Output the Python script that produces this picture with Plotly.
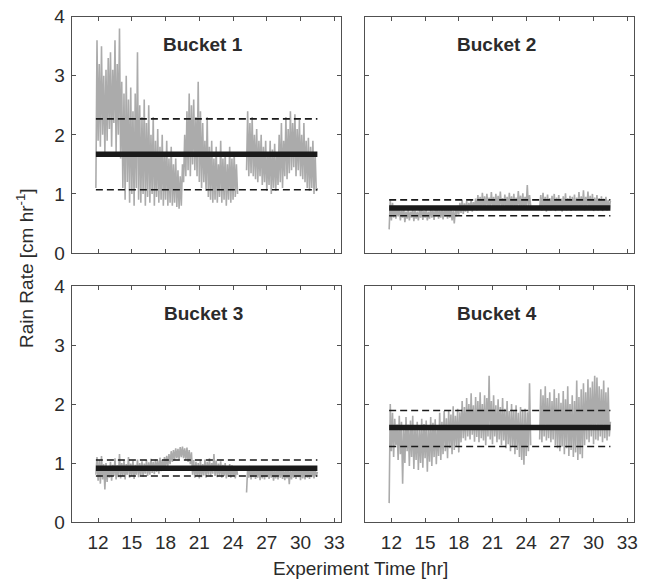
import numpy as np
import plotly.graph_objects as go

# ---------------------------------------------------------------------------
# Data: rain rate [cm/hr] recorded by four buckets, sampled every 0.1 hr.
# Two recording segments separated by a short outage.
# ---------------------------------------------------------------------------
seg_a_start, seg_a_end = 11.8, 24.4
seg_b_start, seg_b_end = 25.2, 31.5
sample_step = 0.1

bucket_names = ["Bucket 1", "Bucket 2", "Bucket 3", "Bucket 4"]

bucket1_a = [
    1.10, 3.60, 1.90, 3.20, 1.80, 3.50, 2.00, 3.00, 1.70, 3.10,
    1.90, 3.30, 2.10, 3.40, 1.80, 3.10, 2.20, 3.60, 1.70, 3.20,
    2.00, 3.80, 1.60, 2.90, 1.10, 2.70, 0.90, 3.00, 1.20, 2.60,
    0.85, 2.80, 1.00, 2.40, 0.80, 2.70, 1.10, 3.40, 0.90, 2.50,
    0.85, 2.30, 1.00, 2.60, 0.80, 2.20, 0.95, 2.50, 0.85, 2.00,
    1.00, 2.30, 0.80, 1.90, 0.95, 2.10, 0.85, 1.80, 0.90, 2.00,
    0.80, 1.70, 0.90, 1.90, 0.80, 1.60, 0.85, 1.80, 0.80, 1.50,
    0.85, 1.60, 0.78, 1.40, 0.75, 1.30, 0.80, 1.50, 1.20, 2.00,
    1.30, 2.40, 1.40, 2.70, 1.30, 2.50, 1.50, 2.60, 1.40, 2.30,
    1.30, 2.90, 1.20, 2.40, 1.10, 2.20, 1.20, 1.90, 1.05, 2.30,
    0.95, 1.80, 0.90, 1.90, 0.85, 1.60, 0.90, 1.80, 0.85, 1.50,
    0.95, 1.90, 0.85, 1.60, 0.90, 1.70, 0.80, 1.50, 0.90, 1.80,
    0.85, 1.60, 0.90, 1.70, 0.95, 1.50, 1.00,
]
bucket1_b = [
    1.40, 2.40, 1.30, 2.20, 1.35, 2.30, 1.30, 2.00, 1.25, 2.10,
    1.20, 1.90, 1.30, 2.00, 1.15, 1.80, 1.20, 1.90, 1.05, 1.70,
    1.15, 1.90, 1.00, 1.75, 1.10, 1.85, 1.05, 1.70, 1.15, 2.00,
    1.20, 2.20, 1.10, 1.90, 1.30, 2.30, 1.25, 2.10, 1.35, 2.40,
    1.40, 2.20, 1.45, 2.35, 1.30, 2.10, 1.40, 2.25, 1.30, 2.00,
    1.25, 2.20, 1.20, 1.90, 1.10, 1.95, 1.05, 1.80, 1.10, 1.90,
    1.00, 1.70, 1.05, 1.10,
]

bucket2_a = [
    0.40, 0.90, 0.55, 0.85, 0.60, 0.80, 0.58, 0.75, 0.62, 0.78,
    0.55, 0.72, 0.60, 0.76, 0.52, 0.70, 0.58, 0.74, 0.55, 0.70,
    0.60, 0.75, 0.54, 0.72, 0.58, 0.70, 0.55, 0.73, 0.60, 0.76,
    0.56, 0.71, 0.60, 0.74, 0.55, 0.70, 0.58, 0.75, 0.60, 0.72,
    0.56, 0.74, 0.62, 0.77, 0.58, 0.72, 0.60, 0.76, 0.57, 0.73,
    0.62, 0.78, 0.58, 0.74, 0.60, 0.76, 0.55, 0.72, 0.50, 0.75,
    0.62, 0.80, 0.65, 0.85, 0.68, 0.90, 0.66, 0.84, 0.70, 0.88,
    0.68, 0.85, 0.72, 0.90, 0.70, 0.86, 0.74, 0.92, 0.72, 0.98,
    0.75, 0.95, 0.73, 1.02, 0.76, 0.96, 0.74, 1.00, 0.78, 0.94,
    0.75, 1.03, 0.77, 0.95, 0.73, 1.00, 0.76, 0.97, 0.74, 1.04,
    0.78, 0.93, 0.75, 0.99, 0.77, 0.95, 0.73, 1.02, 0.76, 0.96,
    0.74, 1.00, 0.78, 0.94, 0.75, 1.05, 0.77, 0.97, 0.74, 1.01,
    0.76, 0.95, 0.78, 1.15, 0.75, 0.98, 0.80,
]
bucket2_b = [
    0.75, 0.98, 0.72, 1.02, 0.76, 0.95, 0.70, 0.99, 0.74, 0.93,
    0.72, 0.97, 0.75, 1.00, 0.71, 0.94, 0.76, 0.98, 0.73, 0.92,
    0.70, 0.96, 0.74, 1.01, 0.72, 0.93, 0.75, 0.97, 0.71, 0.95,
    0.74, 0.99, 0.72, 0.94, 0.76, 1.03, 0.73, 0.96, 0.75, 1.06,
    0.72, 0.95, 0.76, 1.04, 0.74, 0.97, 0.73, 1.00, 0.71, 0.94,
    0.75, 0.98, 0.72, 0.93, 0.74, 0.96, 0.71, 0.92, 0.73, 0.95,
    0.72, 0.90, 0.74, 0.88,
]

bucket3_a = [
    0.80, 1.10, 0.70, 1.05, 0.65, 1.12, 0.72, 0.98, 0.55, 1.00,
    0.68, 0.95, 0.75, 1.02, 0.70, 0.97, 0.78, 1.08, 0.72, 0.96,
    0.76, 1.15, 0.74, 1.00, 0.78, 1.05, 0.72, 0.98, 0.80, 1.10,
    0.75, 0.99, 0.78, 1.04, 0.73, 0.97, 0.80, 1.06, 0.76, 1.00,
    0.79, 1.03, 0.77, 0.99, 0.82, 1.05, 0.78, 1.01, 0.80, 1.07,
    0.83, 1.02, 0.81, 1.06, 0.85, 1.04, 0.82, 1.09, 0.86, 1.05,
    0.88, 1.10, 0.92, 1.12, 0.95, 1.15, 0.98, 1.20, 1.02, 1.22,
    1.05, 1.25, 1.08, 1.24, 1.06, 1.27, 1.10, 1.28, 1.08, 1.25,
    1.05, 1.26, 1.02, 1.22, 0.98, 1.18, 0.80, 1.05, 0.75, 1.02,
    0.78, 1.00, 0.74, 1.05, 0.76, 0.98, 0.79, 1.06, 0.75, 1.02,
    0.80, 1.08, 0.77, 1.00, 0.82, 1.15, 0.78, 1.04, 0.76, 0.99,
    0.79, 1.03, 0.75, 0.97, 0.78, 1.00, 0.74, 0.95, 0.77, 0.98,
    0.75, 0.96, 0.78, 0.93, 0.74, 0.92, 0.80,
]
bucket3_b = [
    0.50, 0.92, 0.75, 0.95, 0.72, 0.90, 0.76, 0.94, 0.73, 0.88,
    0.75, 0.93, 0.71, 0.90, 0.74, 0.95, 0.72, 0.89, 0.76, 0.92,
    0.73, 0.90, 0.75, 0.94, 0.70, 0.88, 0.74, 0.91, 0.72, 0.95,
    0.75, 0.89, 0.73, 0.92, 0.71, 0.87, 0.74, 0.93, 0.64, 0.90,
    0.72, 0.88, 0.75, 0.92, 0.73, 0.90, 0.76, 0.94, 0.71, 0.89,
    0.74, 0.91, 0.72, 0.93, 0.75, 0.88, 0.73, 0.92, 0.76, 0.90,
    0.74, 0.89, 0.77, 0.85,
]

bucket4_a = [
    0.32, 2.00, 1.20, 1.85, 1.10, 1.75, 1.30, 1.65, 1.05, 1.80,
    1.15, 1.70, 0.65, 1.60, 1.00, 1.78, 1.20, 1.65, 0.95, 1.72,
    1.10, 1.80, 0.90, 1.62, 1.05, 1.70, 0.88, 1.58, 1.00, 1.75,
    0.92, 1.66, 1.08, 1.72, 0.85, 1.60, 1.02, 1.78, 0.95, 1.68,
    1.10, 1.74, 0.98, 1.62, 1.12, 1.85, 1.05, 1.70, 1.15, 1.88,
    1.20, 1.76, 1.08, 1.90, 1.25, 1.82, 1.15, 1.96, 1.22, 1.80,
    1.28, 1.92, 1.18, 1.86, 1.35, 2.05, 1.42, 1.95, 1.38, 2.10,
    1.45, 2.00, 1.40, 2.18, 1.48, 1.98, 1.36, 2.12, 1.44, 2.05,
    1.35, 2.20, 1.42, 2.00, 1.38, 2.15, 1.30, 2.10, 1.45, 2.48,
    1.40, 2.05, 1.32, 2.15, 1.45, 1.98, 1.35, 2.08, 1.40, 1.95,
    1.30, 2.10, 1.38, 1.92, 1.25, 2.05, 1.32, 1.88, 1.20, 2.00,
    1.28, 1.90, 1.15, 1.98, 1.22, 1.85, 1.10, 1.95, 1.05, 1.88,
    0.97, 1.92, 1.12, 1.86, 1.20, 2.35, 1.30,
]
bucket4_b = [
    1.40, 2.25, 1.35, 2.15, 1.45, 2.30, 1.38, 2.10, 1.42, 2.20,
    1.35, 2.05, 1.40, 2.25, 1.30, 2.10, 1.25, 2.18, 1.20, 2.02,
    1.28, 2.22, 1.15, 2.08, 1.25, 2.30, 1.12, 2.00, 1.22, 2.15,
    1.10, 2.05, 1.18, 2.40, 1.05, 2.12, 1.15, 2.25, 1.08, 2.35,
    1.30, 2.20, 1.40, 2.42, 1.35, 2.28, 1.45, 2.38, 1.32, 2.48,
    1.40, 2.45, 1.38, 2.30, 1.45, 2.25, 1.35, 2.40, 1.42, 2.20,
    1.38, 2.28, 1.45, 1.70,
]

# Summary statistics per bucket: mean and +/- one standard deviation
bucket_mean = [1.67, 0.76, 0.91, 1.60]
bucket_upper = [2.27, 0.90, 1.05, 1.89]
bucket_lower = [1.07, 0.63, 0.78, 1.28]
stat_t_start, stat_t_end = 11.8, 31.5

x_ticks = [12, 15, 18, 21, 24, 27, 30, 33]
y_ticks = [0, 1, 2, 3, 4]
x_range = [9.65, 33.6]
y_range = [0, 4]

# ---------------------------------------------------------------------------
series_a = [bucket1_a, bucket2_a, bucket3_a, bucket4_a]
series_b = [bucket1_b, bucket2_b, bucket3_b, bucket4_b]

t_a = np.round(np.arange(seg_a_start, seg_a_end + sample_step / 2, sample_step), 1)
t_b = np.round(np.arange(seg_b_start, seg_b_end + sample_step / 2, sample_step), 1)
for a, b in zip(series_a, series_b):
    assert len(a) == len(t_a), (len(a), len(t_a))
    assert len(b) == len(t_b), (len(b), len(t_b))

W, H = 652, 582
# panel boxes in pixels (left, right, top, bottom)
col_px = [(71.7, 341.0), (365.0, 634.0)]
row_px = [(16.7, 253.0), (286.0, 522.0)]

FONT = "Liberation Sans, Arial, Helvetica, sans-serif"
TEXT = "#2b2b2b"
FRAME = "#505050"
GRAY = "#ababab"
DARK = "#1a1a1a"

fig = go.Figure()
layout = dict(
    width=W, height=H,
    margin=dict(l=0, r=0, t=0, b=0, autoexpand=False),
    paper_bgcolor="white", plot_bgcolor="white",
    showlegend=False,
    font=dict(family=FONT, size=19, color=TEXT),
)
annotations = []

for i in range(4):
    r, c = divmod(i, 2)
    n = "" if i == 0 else str(i + 1)
    xa, ya = "x" + n, "y" + n
    x0, x1 = col_px[c]
    y0, y1 = row_px[r]

    layout["xaxis" + n] = dict(
        domain=[x0 / W, x1 / W], range=x_range, anchor=ya,
        tickvals=x_ticks, showticklabels=(r == 1), automargin=False,
        ticks="inside", ticklen=4, tickwidth=1, tickcolor=FRAME,
        showline=True, linecolor=FRAME, linewidth=1.3, mirror="allticks",
        showgrid=False, zeroline=False, ticklabelstandoff=3,
        tickfont=dict(size=19, color=TEXT),
    )
    layout["yaxis" + n] = dict(
        domain=[1 - y1 / H, 1 - y0 / H], range=y_range, anchor=xa,
        tickvals=y_ticks, showticklabels=(c == 0), automargin=False,
        ticks="inside", ticklen=4, tickwidth=1, tickcolor=FRAME,
        showline=True, linecolor=FRAME, linewidth=1.3, mirror="allticks",
        showgrid=False, zeroline=False, ticklabelstandoff=2,
        tickfont=dict(size=19, color=TEXT),
    )

    tx = list(t_a) + [None] + list(t_b)
    ty = list(series_a[i]) + [None] + list(series_b[i])
    fig.add_trace(go.Scatter(
        x=tx, y=ty, mode="lines", xaxis=xa, yaxis=ya,
        line=dict(color=GRAY, width=1.6), hoverinfo="skip",
    ))
    for level in (bucket_upper[i], bucket_lower[i]):
        fig.add_trace(go.Scatter(
            x=[stat_t_start, stat_t_end], y=[level, level], mode="lines",
            xaxis=xa, yaxis=ya,
            line=dict(color=DARK, width=1.6, dash="7px,4px"),
        ))
    fig.add_trace(go.Scatter(
        x=[stat_t_start, stat_t_end], y=[bucket_mean[i], bucket_mean[i]],
        mode="lines", xaxis=xa, yaxis=ya,
        line=dict(color=DARK, width=5.5),
    ))

    annotations.append(dict(
        text="<b>%s</b>" % bucket_names[i], xref="paper", yref="paper",
        x=((x0 + x1) / 2 - 3) / W, y=1 - (y0 + 27.5) / H,
        xanchor="center", yanchor="middle", showarrow=False,
        font=dict(size=19, color=TEXT, family=FONT),
    ))

annotations.append(dict(
    text="Experiment Time [hr]", xref="paper", yref="paper",
    x=360 / W, y=1 - 568 / H, xanchor="center", yanchor="middle",
    showarrow=False, font=dict(size=19, color=TEXT, family=FONT),
))
annotations.append(dict(
    text="Rain Rate [cm hr<sup>-1</sup>]", xref="paper", yref="paper",
    x=25 / W, y=1 - 268 / H, xanchor="center", yanchor="middle",
    textangle=-90, showarrow=False, font=dict(size=19, color=TEXT, family=FONT),
))
layout["annotations"] = annotations

fig.update_layout(**layout)
fig.write_html("out.html")
